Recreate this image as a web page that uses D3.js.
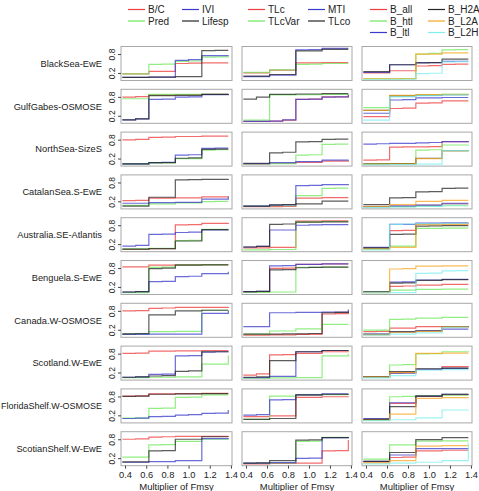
<!DOCTYPE html>
<html>
<head>
<meta charset="utf-8">
<script src="https://cdn.jsdelivr.net/npm/d3@7"></script>
<style>
  body { margin: 0; background: #fff; }
  svg { display: block; font-family: "Liberation Sans", Arial, sans-serif; }
</style>
</head>
<body>
<div id="chart"></div>
<script>
// multiplier of Fmsy at which each indicator was evaluated
const fMult = [0.375, 0.5, 0.625, 0.75, 0.875, 1.0, 1.125, 1.25, 1.375];

const regions = ["BlackSea-EwE", "GulfGabes-OSMOSE", "NorthSea-SizeS", "CatalanSea.S-EwE",
  "Australia.SE-Atlantis", "Benguela.S-EwE", "Canada.W-OSMOSE", "Scotland.W-EwE",
  "FloridaShelf.W-OSMOSE", "ScotianShelf.W-EwE"];

const xTicks = [0.4, 0.6, 0.8, 1.0, 1.2, 1.4];
const yTicks = [0.2, 0.8];

// panel 1 series (one row per region)
const bcVals = [
  [0.17,0.17,0.25,0.25,0.50,0.51,0.52,0.52,0.52],
  [0.79,0.81,0.86,0.86,0.87,0.87,0.88,0.88,0.88],
  [0.79,0.81,0.87,0.88,0.90,0.90,0.91,0.91,0.91],
  [0.22,0.23,0.30,0.30,0.31,0.31,0.34,0.34,0.34],
  [0.03,0.03,0.06,0.06,0.81,0.82,0.86,0.86,0.87],
  [0.84,0.84,0.89,0.89,0.91,0.91,0.91,0.91,0.91],
  [0.80,0.81,0.88,0.89,0.91,0.91,0.91,0.91,0.92],
  [0.81,0.82,0.88,0.88,0.89,0.89,0.90,0.90,0.90],
  [0.81,0.82,0.88,0.88,0.89,0.89,0.90,0.90,0.90],
  [0.80,0.81,0.87,0.88,0.89,0.89,0.89,0.89,0.90]
];
const predVals = [
  [0.17,0.17,0.47,0.48,0.57,0.58,0.70,0.71,0.72],
  [0.74,0.74,0.88,0.88,0.88,0.88,0.88,0.88,0.88],
  [0.02,0.02,0.05,0.06,0.20,0.20,0.47,0.48,0.48],
  [0.07,0.07,0.12,0.12,0.15,0.15,0.19,0.20,0.20],
  [0.05,0.05,0.07,0.07,0.31,0.32,0.67,0.67,0.68],
  [0.02,0.02,0.82,0.83,0.90,0.90,0.91,0.91,0.91],
  [0.06,0.06,0.14,0.14,0.15,0.15,0.82,0.82,0.83],
  [0.04,0.04,0.05,0.05,0.06,0.06,0.47,0.47,0.74],
  [0.11,0.11,0.42,0.43,0.77,0.78,0.85,0.85,0.85],
  [0.23,0.23,0.62,0.63,0.73,0.73,0.80,0.80,0.80]
];
const iviVals = [
  [0.06,0.06,0.07,0.07,0.60,0.62,0.75,0.75,0.76],
  [0.07,0.10,0.72,0.73,0.79,0.80,0.87,0.87,0.88],
  [0.03,0.03,0.07,0.08,0.31,0.32,0.52,0.53,0.53],
  [0.14,0.14,0.16,0.16,0.17,0.17,0.27,0.27,0.36],
  [0.14,0.16,0.51,0.52,0.57,0.58,0.65,0.65,0.66],
  [0.04,0.05,0.37,0.38,0.53,0.54,0.62,0.62,0.68],
  [0.05,0.05,0.06,0.06,0.06,0.06,0.72,0.72,0.80],
  [0.05,0.06,0.14,0.15,0.73,0.74,0.85,0.86,0.86],
  [0.10,0.11,0.16,0.17,0.21,0.22,0.26,0.27,0.37],
  [0.07,0.07,0.09,0.09,0.12,0.12,0.82,0.82,0.83]
];
const lifespVals = [
  [0.06,0.06,0.07,0.07,0.08,0.08,0.91,0.92,0.92],
  [0.07,0.10,0.84,0.84,0.85,0.85,0.88,0.88,0.89],
  [0.03,0.03,0.07,0.07,0.21,0.22,0.49,0.50,0.50],
  [0.05,0.05,0.33,0.33,0.88,0.89,0.90,0.90,0.91],
  [0.04,0.04,0.06,0.06,0.30,0.30,0.66,0.66,0.66],
  [0.04,0.05,0.78,0.80,0.89,0.89,0.90,0.90,0.90],
  [0.07,0.08,0.67,0.67,0.80,0.80,0.82,0.82,0.82],
  [0.05,0.06,0.09,0.10,0.24,0.25,0.86,0.86,0.87],
  [0.80,0.81,0.87,0.87,0.88,0.88,0.89,0.89,0.89],
  [0.08,0.08,0.43,0.44,0.80,0.80,0.88,0.88,0.88]
];

// panel 2 series
const tlcVals = [
  [0.20,0.20,0.29,0.29,0.52,0.52,0.53,0.53,0.53],
  [0.02,0.02,0.03,0.06,0.72,0.73,0.80,0.80,0.86],
  [0.03,0.03,0.05,0.05,0.08,0.08,0.12,0.12,0.13],
  [0.03,0.03,0.03,0.04,0.30,0.30,0.32,0.32,0.32],
  [0.08,0.08,0.10,0.10,0.93,0.93,0.94,0.94,0.94],
  [0.04,0.04,0.79,0.80,0.92,0.92,0.93,0.93,0.93],
  [0.03,0.03,0.04,0.04,0.05,0.05,0.70,0.71,0.80],
  [0.12,0.16,0.76,0.77,0.81,0.81,0.86,0.86,0.87],
  [0.16,0.16,0.18,0.18,0.77,0.77,0.79,0.79,0.80],
  [0.02,0.02,0.03,0.03,0.04,0.04,0.43,0.44,0.78]
];
const tlcVarVals = [
  [0.22,0.22,0.30,0.30,0.47,0.48,0.50,0.50,0.50],
  [0.06,0.06,0.86,0.86,0.87,0.87,0.88,0.88,0.88],
  [0.03,0.03,0.04,0.04,0.31,0.32,0.65,0.66,0.66],
  [0.04,0.04,0.06,0.06,0.38,0.38,0.61,0.62,0.62],
  [0.02,0.02,0.03,0.03,0.90,0.91,0.92,0.92,0.92],
  [0.03,0.03,0.04,0.04,0.82,0.82,0.83,0.83,0.83],
  [0.06,0.06,0.16,0.16,0.23,0.23,0.37,0.37,0.37],
  [0.02,0.02,0.03,0.03,0.04,0.04,0.73,0.73,0.80],
  [0.07,0.07,0.81,0.81,0.85,0.85,0.86,0.86,0.86],
  [0.03,0.03,0.05,0.05,0.73,0.74,0.86,0.86,0.87]
];
const mtiVals = [
  [0.08,0.08,0.13,0.13,0.93,0.94,0.98,0.98,0.98],
  [0.02,0.02,0.03,0.07,0.72,0.73,0.79,0.80,0.87],
  [0.04,0.04,0.07,0.07,0.10,0.10,0.15,0.15,0.16],
  [0.05,0.05,0.08,0.09,0.70,0.71,0.73,0.73,0.75],
  [0.11,0.13,0.65,0.65,0.80,0.81,0.82,0.82,0.82],
  [0.05,0.06,0.87,0.88,0.92,0.92,0.93,0.93,0.93],
  [0.30,0.30,0.74,0.74,0.75,0.75,0.76,0.76,0.84],
  [0.04,0.04,0.08,0.08,0.86,0.86,0.90,0.90,0.90],
  [0.21,0.22,0.69,0.70,0.85,0.85,0.88,0.88,0.88],
  [0.04,0.04,0.06,0.06,0.19,0.20,0.85,0.85,0.86]
];
const tlcoVals = [
  [0.10,0.10,0.15,0.15,0.90,0.90,0.95,0.95,0.95],
  [0.73,0.79,0.88,0.88,0.89,0.89,0.90,0.90,0.90],
  [0.05,0.05,0.38,0.40,0.73,0.74,0.81,0.82,0.82],
  [0.05,0.05,0.09,0.10,0.12,0.12,0.21,0.21,0.21],
  [0.11,0.13,0.83,0.84,0.90,0.90,0.91,0.91,0.91],
  [0.05,0.06,0.74,0.75,0.81,0.82,0.83,0.83,0.83],
  [0.06,0.06,0.06,0.07,0.07,0.08,0.74,0.75,0.76],
  [0.05,0.06,0.58,0.58,0.86,0.86,0.90,0.90,0.91],
  [0.07,0.07,0.10,0.10,0.85,0.85,0.87,0.87,0.88],
  [0.04,0.05,0.12,0.12,0.77,0.78,0.85,0.85,0.86]
];

// panel 3 series
const bAllVals = [
  [0.20,0.20,0.27,0.27,0.42,0.43,0.47,0.48,0.48],
  [0.17,0.17,0.43,0.44,0.60,0.61,0.67,0.67,0.67],
  [0.15,0.16,0.56,0.57,0.57,0.58,0.74,0.74,0.75],
  [0.03,0.03,0.05,0.05,0.07,0.07,0.12,0.12,0.12],
  [0.07,0.07,0.63,0.64,0.84,0.85,0.85,0.85,0.86],
  [0.04,0.04,0.22,0.23,0.26,0.26,0.28,0.28,0.28],
  [0.14,0.15,0.25,0.25,0.30,0.30,0.30,0.30,0.31],
  [0.06,0.06,0.20,0.20,0.30,0.30,0.39,0.39,0.40],
  [0.07,0.07,0.58,0.58,0.80,0.80,0.86,0.86,0.86],
  [0.08,0.08,0.22,0.23,0.43,0.43,0.45,0.45,0.45]
];
const bHtlVals = [
  [0.01,0.01,0.01,0.02,0.80,0.82,0.93,0.94,0.94],
  [0.46,0.46,0.84,0.84,0.86,0.86,0.88,0.88,0.88],
  [0.03,0.03,0.04,0.04,0.47,0.48,0.63,0.63,0.64],
  [0.02,0.02,0.03,0.03,0.05,0.05,0.06,0.06,0.06],
  [0.05,0.05,0.14,0.14,0.70,0.70,0.71,0.71,0.71],
  [0.05,0.05,0.10,0.10,0.12,0.12,0.13,0.13,0.13],
  [0.19,0.19,0.53,0.54,0.57,0.57,0.59,0.59,0.59],
  [0.05,0.05,0.44,0.45,0.79,0.80,0.86,0.86,0.87],
  [0.05,0.05,0.79,0.80,0.83,0.83,0.84,0.84,0.84],
  [0.17,0.17,0.62,0.62,0.74,0.74,0.75,0.75,0.75]
];
const bLtlVals = [
  [0.22,0.22,0.46,0.46,0.53,0.53,0.57,0.57,0.57],
  [0.28,0.28,0.70,0.71,0.77,0.77,0.78,0.78,0.78],
  [0.66,0.67,0.68,0.68,0.70,0.71,0.74,0.74,0.75],
  [0.04,0.04,0.05,0.05,0.08,0.08,0.14,0.14,0.14],
  [0.10,0.10,0.83,0.83,0.87,0.87,0.88,0.88,0.88],
  [0.04,0.04,0.35,0.36,0.42,0.42,0.44,0.44,0.44],
  [0.06,0.06,0.14,0.14,0.17,0.17,0.22,0.22,0.22],
  [0.07,0.07,0.17,0.18,0.30,0.30,0.33,0.33,0.33],
  [0.10,0.10,0.60,0.60,0.81,0.81,0.87,0.87,0.88],
  [0.10,0.10,0.30,0.30,0.50,0.50,0.50,0.50,0.51]
];
const bH2AVals = [
  [0.24,0.24,0.46,0.46,0.52,0.53,0.64,0.64,0.64],
  [0.37,0.37,0.83,0.83,0.85,0.85,0.87,0.87,0.87],
  [0.03,0.03,0.04,0.04,0.21,0.21,0.45,0.45,0.46],
  [0.10,0.10,0.31,0.32,0.50,0.51,0.61,0.62,0.62],
  [0.08,0.08,0.51,0.52,0.77,0.78,0.79,0.79,0.79],
  [0.04,0.04,0.32,0.33,0.41,0.41,0.43,0.43,0.43],
  [0.05,0.05,0.13,0.13,0.16,0.16,0.30,0.30,0.31],
  [0.07,0.07,0.23,0.23,0.32,0.32,0.34,0.34,0.34],
  [0.07,0.07,0.48,0.48,0.81,0.81,0.87,0.87,0.87],
  [0.10,0.10,0.38,0.38,0.79,0.79,0.85,0.85,0.85]
];
const bL2AVals = [
  [0.02,0.02,0.02,0.02,0.80,0.80,0.84,0.84,0.84],
  [0.37,0.37,0.85,0.85,0.87,0.87,0.88,0.88,0.88],
  [0.02,0.02,0.03,0.03,0.20,0.20,0.44,0.44,0.44],
  [0.04,0.04,0.10,0.10,0.20,0.20,0.23,0.23,0.23],
  [0.04,0.04,0.10,0.10,0.82,0.82,0.83,0.83,0.83],
  [0.02,0.02,0.77,0.78,0.86,0.86,0.87,0.87,0.87],
  [0.04,0.04,0.12,0.12,0.15,0.15,0.29,0.29,0.29],
  [0.06,0.06,0.20,0.20,0.81,0.81,0.82,0.82,0.82],
  [0.04,0.04,0.24,0.24,0.74,0.74,0.76,0.76,0.77],
  [0.05,0.05,0.12,0.12,0.58,0.58,0.60,0.60,0.61]
];
const bL2HVals = [
  [0.00,0.00,0.00,0.00,0.18,0.19,0.55,0.56,0.56],
  [0.06,0.06,0.80,0.80,0.84,0.84,0.86,0.86,0.86],
  [0.00,0.00,0.01,0.01,0.02,0.02,0.45,0.45,0.46],
  [0.00,0.00,0.02,0.02,0.04,0.04,0.08,0.08,0.08],
  [0.02,0.02,0.83,0.84,0.85,0.85,0.86,0.86,0.86],
  [0.01,0.01,0.02,0.02,0.63,0.64,0.71,0.72,0.72],
  [0.03,0.03,0.06,0.06,0.10,0.10,0.28,0.28,0.28],
  [0.03,0.03,0.10,0.10,0.28,0.28,0.29,0.29,0.30],
  [0.03,0.03,0.06,0.06,0.12,0.12,0.37,0.37,0.38],
  [0.02,0.02,0.04,0.04,0.07,0.07,0.12,0.12,0.70]
];

const RED = "#ee3b3b", GREEN = "#6ee85a", BLUE = "#3a3acb", BLACK = "#262626",
      ORANGE = "#f5a623", CYAN = "#7eeeee";

const panelSets = [
  { names: ["B/C", "Pred", "IVI", "Lifesp"], colors: [RED, GREEN, BLUE, BLACK],
    data: [bcVals, predVals, iviVals, lifespVals], legendRows: 2 },
  { names: ["TLc", "TLcVar", "MTI", "TLco"], colors: [RED, GREEN, BLUE, BLACK],
    data: [tlcVals, tlcVarVals, mtiVals, tlcoVals], legendRows: 2 },
  { names: ["B_all", "B_htl", "B_ltl", "B_H2A", "B_L2A", "B_L2H"],
    colors: [RED, GREEN, BLUE, BLACK, ORANGE, CYAN],
    data: [bAllVals, bHtlVals, bLtlVals, bH2AVals, bL2AVals, bL2HVals], legendRows: 3 }
];

// layout
const W = 479, H = 491;
const colX = [121, 242, 362];
const colW = [111, 110, 110];
const rowTop0 = 46.5, rowStep = 42.8, panelH = 34;
const legendX = [[128, 182], [248, 308], [370, 428]];
const legendY0 = 9.5, legendDy = 11.5;

const svg = d3.select("#chart").append("svg")
  .attr("width", W).attr("height", H);

// legends
panelSets.forEach((ps, c) => {
  ps.names.forEach((name, i) => {
    const lc = Math.floor(i / ps.legendRows), lr = i % ps.legendRows;
    const x0 = legendX[c][lc], y0 = legendY0 + lr * legendDy;
    svg.append("line")
      .attr("x1", x0).attr("x2", x0 + 17)
      .attr("y1", y0).attr("y2", y0)
      .attr("stroke", ps.colors[i]).attr("stroke-width", 1.2);
    svg.append("text")
      .attr("x", x0 + 20).attr("y", y0)
      .attr("dy", "0.35em")
      .attr("font-size", 10)
      .attr("fill", "#222")
      .text(name);
  });
});

// row labels (squeeze the longest one so it stays inside the page)
regions.forEach((r, i) => {
  const t = svg.append("text")
    .attr("x", 102)
    .attr("y", rowTop0 + i * rowStep + panelH / 2)
    .attr("dy", "0.35em")
    .attr("text-anchor", "end")
    .attr("font-size", 9.3)
    .attr("fill", "#222")
    .text(r);
  if (t.node().getComputedTextLength() > 101) {
    t.attr("textLength", 101).attr("lengthAdjust", "spacingAndGlyphs");
  }
});

// panels
panelSets.forEach((ps, c) => {
  const x = d3.scaleLinear().domain([0.362, 1.41]).range([colX[c], colX[c] + colW[c]]);

  regions.forEach((r, i) => {
    const top = rowTop0 + i * rowStep;
    const y = d3.scaleLinear().domain([-0.04, 1.04]).range([top + panelH, top]);
    const g = svg.append("g");

    const line = d3.line()
      .x((d, k) => x(fMult[k]))
      .y(d => y(d))
      .curve(d3.curveStepAfter);

    ps.data.forEach((series, s) => {
      g.append("path")
        .attr("d", line(series[i]))
        .attr("fill", "none")
        .attr("stroke", ps.colors[s])
        .attr("stroke-width", 1.2)
        .attr("stroke-opacity", 0.75);
    });

    g.append("rect")
      .attr("x", colX[c]).attr("y", top)
      .attr("width", colW[c]).attr("height", panelH)
      .attr("fill", "none")
      .attr("stroke", "#a8a8a8")
      .attr("stroke-width", 1);

    // y axis on first column only
    if (c === 0) {
      const ya = g.append("g")
        .attr("transform", `translate(${colX[c]},0)`)
        .call(d3.axisLeft(y).tickValues(yTicks).tickSize(3).tickPadding(2).tickFormat(d3.format(".1f")));
      ya.select(".domain").remove();
      ya.selectAll("line").attr("stroke", "#444");
      ya.selectAll("text")
        .attr("font-size", 8.5)
        .attr("fill", "#222")
        .attr("font-family", "Liberation Sans, Arial, sans-serif")
        .attr("transform", "rotate(-90)")
        .attr("x", 0).attr("dy", 0)
        .attr("y", -6)
        .attr("text-anchor", "middle");
    }

    // x axis on last row only
    if (i === regions.length - 1) {
      const xa = g.append("g")
        .attr("transform", `translate(0,${top + panelH})`)
        .call(d3.axisBottom(x).tickValues(xTicks).tickSize(3).tickPadding(3).tickFormat(d3.format(".1f")));
      xa.select(".domain").remove();
      xa.selectAll("line").attr("stroke", "#444");
      xa.selectAll("text")
        .attr("font-size", 9.3)
        .attr("fill", "#222")
        .attr("font-family", "Liberation Sans, Arial, sans-serif");
    }
  });

  svg.append("text")
    .attr("x", colX[c] + colW[c] / 2)
    .attr("y", 489.5)
    .attr("text-anchor", "middle")
    .attr("font-size", 9.5)
    .attr("fill", "#222")
    .text("Multiplier of Fmsy");
});
</script>
</body>
</html>
